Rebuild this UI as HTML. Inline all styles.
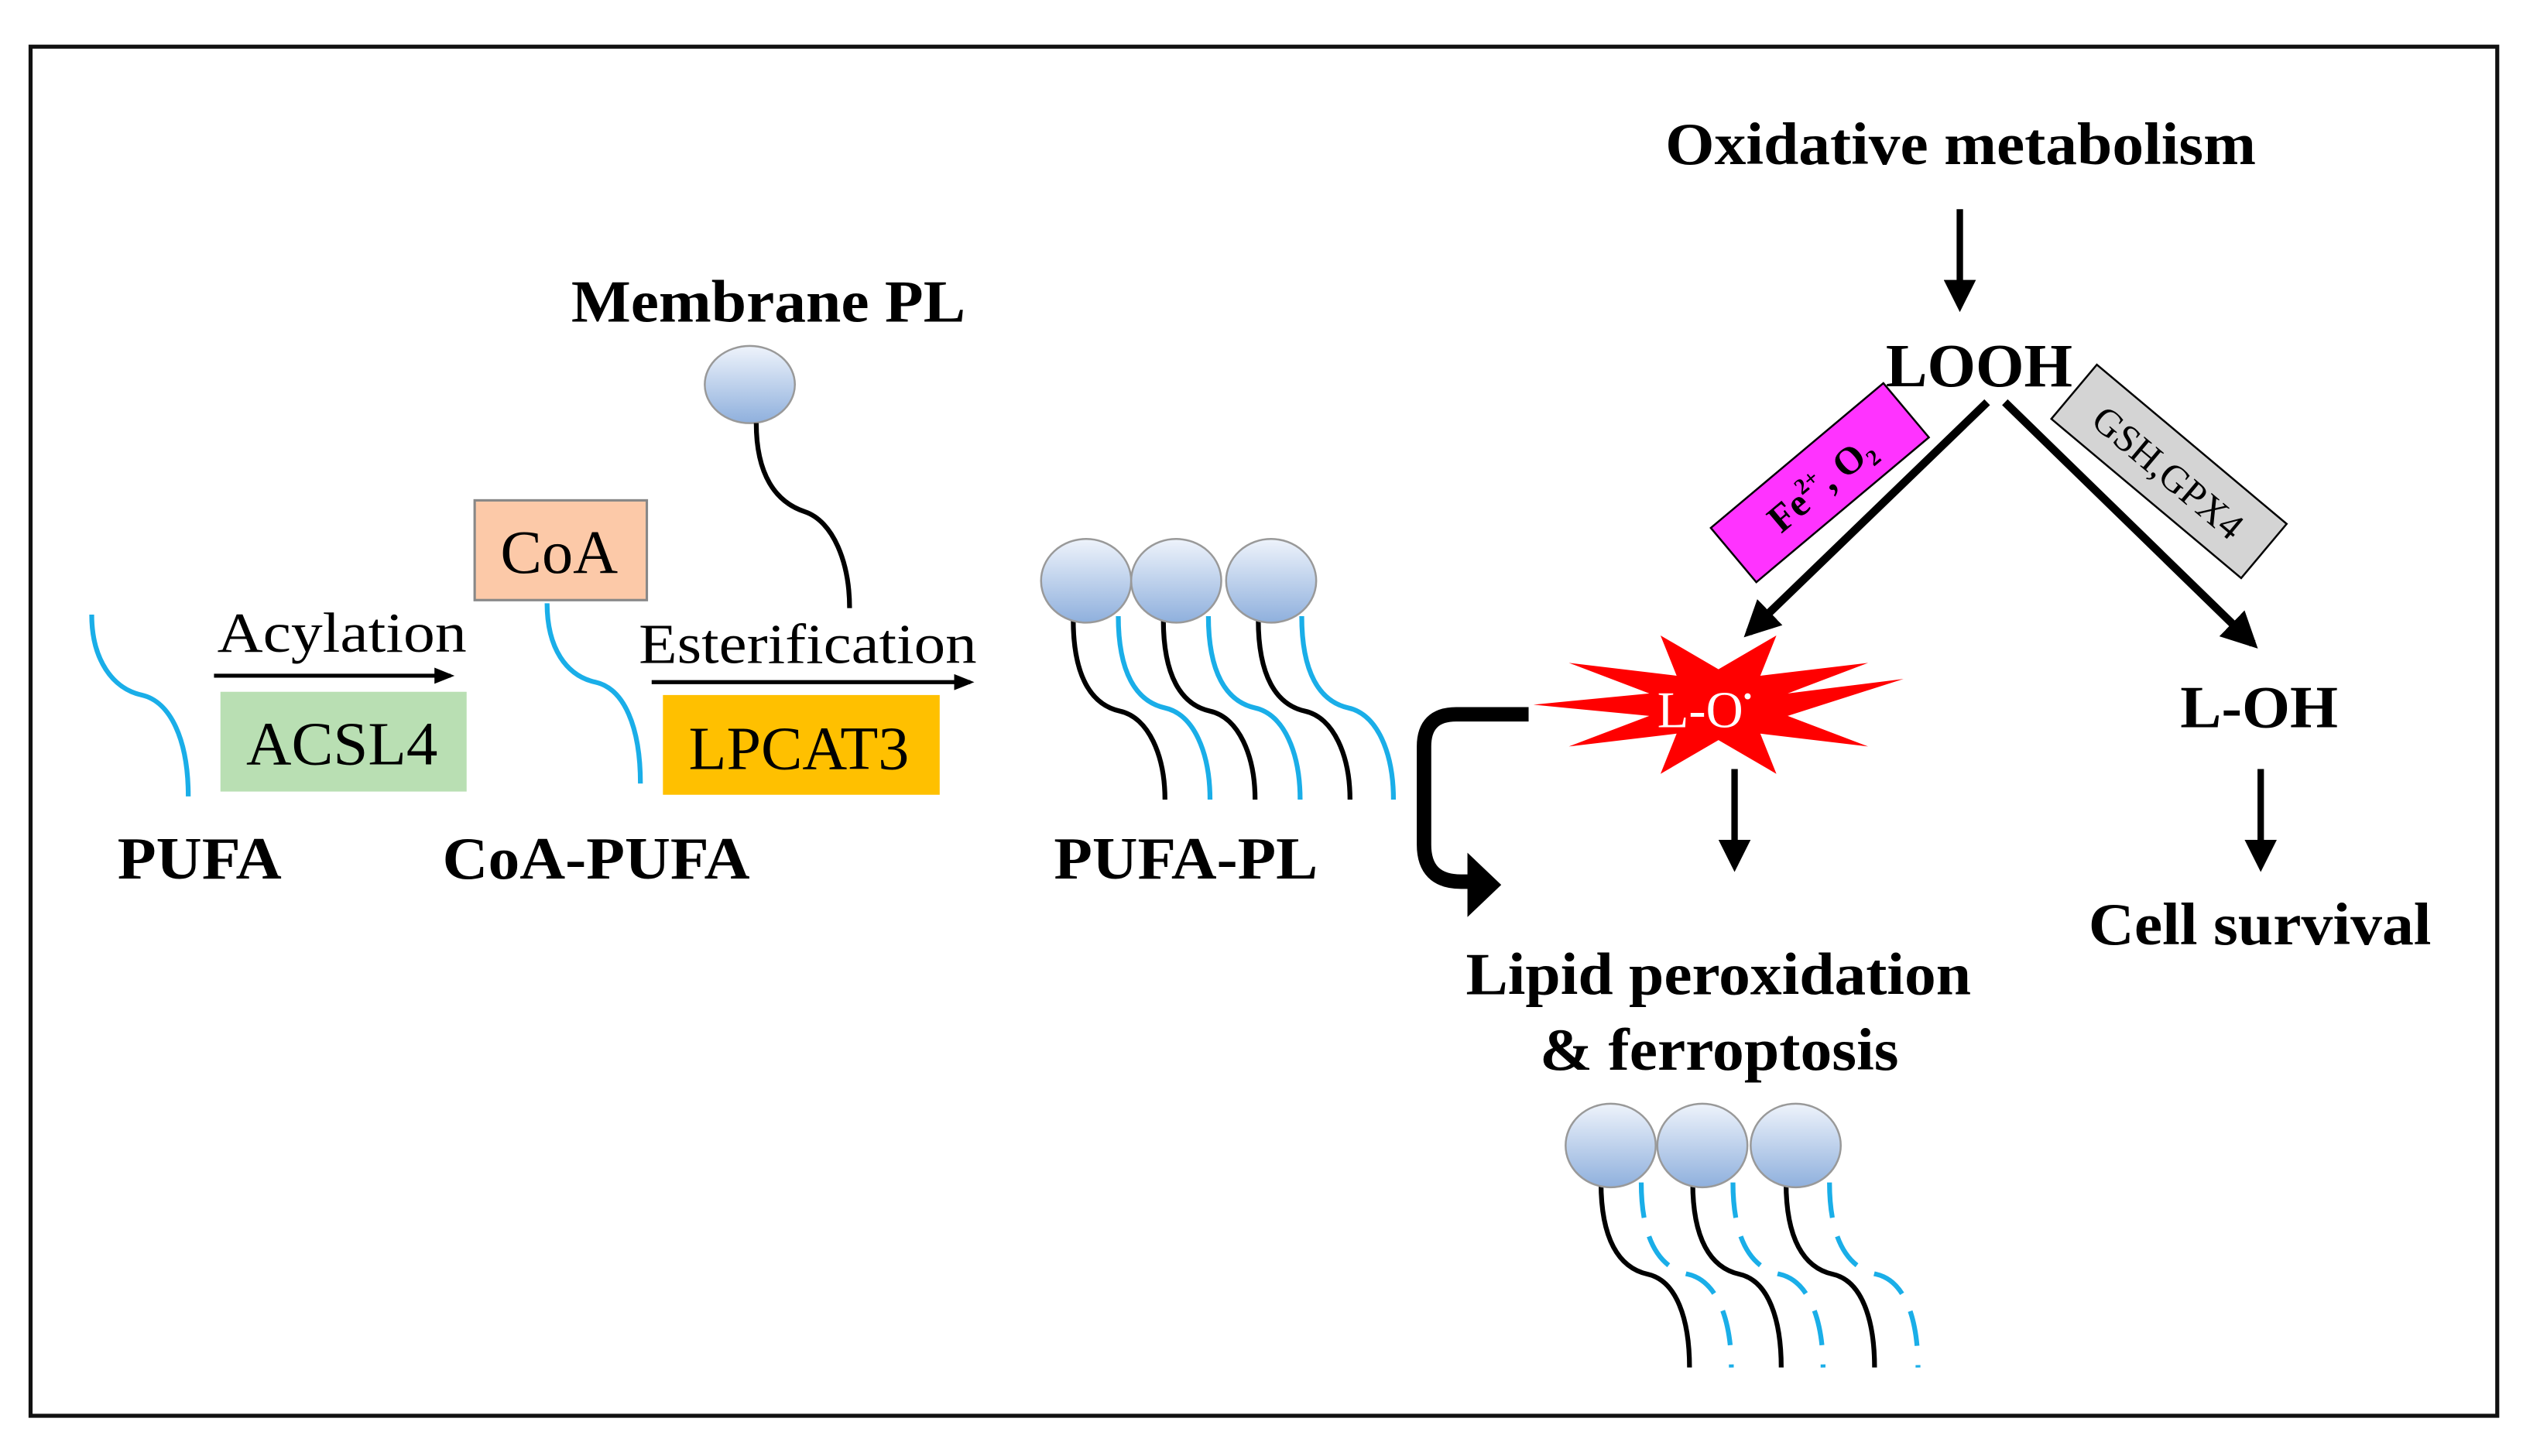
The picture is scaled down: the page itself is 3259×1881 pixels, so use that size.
<!DOCTYPE html>
<html><head><meta charset="utf-8"><style>
html,body{margin:0;padding:0;background:#fff;}
svg{display:block;}
text{font-family:"Liberation Serif",serif;}
.b{font-weight:bold;}
</style></head><body>
<svg width="3259" height="1881" viewBox="0 0 1568 905" xmlns="http://www.w3.org/2000/svg">
<defs>
<linearGradient id="g" x1="0" y1="0" x2="0" y2="1">
<stop offset="0" stop-color="#eef3fb"/><stop offset="1" stop-color="#8fb0dd"/>
</linearGradient>
<marker id="ah" viewBox="0 0 10 10" refX="8" refY="5" markerWidth="5" markerHeight="5" orient="auto"><path d="M0,0 L10,5 L0,10 z" fill="#000"/></marker>
<marker id="ad" viewBox="0 0 10 10" refX="8" refY="5" markerWidth="4.5" markerHeight="4.5" orient="auto"><path d="M0,0 L10,5 L0,10 z" fill="#000"/></marker>
<marker id="as" viewBox="0 0 10 10" refX="8" refY="5" markerWidth="6" markerHeight="5" orient="auto"><path d="M0,1 L10,5 L0,9 z" fill="#000"/></marker>
</defs>
<rect x="19" y="29" width="1533" height="851" fill="#fff" stroke="#111" stroke-width="2.5"/>

<!-- left side -->
<path d="M57,382 C57,410 70,428 88,432 C106,436 117,460 117,495" fill="none" stroke="#1aaee8" stroke-width="3"/>
<text x="135" y="405" font-size="35" textLength="155" lengthAdjust="spacingAndGlyphs">Acylation</text>
<line x1="133" y1="420" x2="280" y2="420" stroke="#000" stroke-width="2.5" marker-end="url(#as)"/>
<rect x="137" y="430" width="153" height="62" fill="#b9dfb3"/>
<text x="153" y="475" font-size="38" textLength="119" lengthAdjust="spacingAndGlyphs">ACSL4</text>
<text x="73" y="546" font-size="37" class="b" textLength="102" lengthAdjust="spacingAndGlyphs">PUFA</text>

<rect x="295" y="311" width="107" height="62" fill="#fcc9a8" stroke="#888" stroke-width="1.5"/>
<text x="311" y="356" font-size="38" textLength="73" lengthAdjust="spacingAndGlyphs">CoA</text>
<path d="M340,375 C340,403 352,420 370,424 C388,428 398,452 398,487" fill="none" stroke="#1aaee8" stroke-width="3"/>
<text x="275" y="546" font-size="37" class="b" textLength="191" lengthAdjust="spacingAndGlyphs">CoA-PUFA</text>

<text x="355" y="200" font-size="37" class="b" textLength="245" lengthAdjust="spacingAndGlyphs">Membrane PL</text>
<ellipse cx="466" cy="239" rx="28" ry="24" fill="url(#g)" stroke="#999" stroke-width="1.2"/>
<path d="M470,263 C470,295 482,312 500,318 C518,324 528,350 528,378" fill="none" stroke="#000" stroke-width="3"/>
<text x="397" y="412" font-size="35" textLength="210" lengthAdjust="spacingAndGlyphs">Esterification</text>
<line x1="405" y1="424" x2="603" y2="424" stroke="#000" stroke-width="2.5" marker-end="url(#as)"/>
<rect x="412" y="432" width="172" height="62" fill="#ffc000"/>
<text x="428" y="478" font-size="38" textLength="137" lengthAdjust="spacingAndGlyphs">LPCAT3</text>

<!-- PUFA-PL -->
<g fill="none" stroke-width="3">
<path d="M667,385 C667,420 678,438 696,442 C714,446 724,470 724,497" stroke="#000"/>
<path d="M695,383 C695,418 706,436 724,440 C742,444 752,468 752,497" stroke="#1aaee8"/>
<path d="M723,385 C723,420 734,438 752,442 C770,446 780,470 780,497" stroke="#000"/>
<path d="M751,383 C751,418 762,436 780,440 C798,444 808,468 808,497" stroke="#1aaee8"/>
<path d="M782,385 C782,420 793,438 811,442 C829,446 839,470 839,497" stroke="#000"/>
<path d="M809,383 C809,418 820,436 838,440 C856,444 866,468 866,497" stroke="#1aaee8"/>
</g>
<ellipse cx="675" cy="361" rx="28" ry="26" fill="url(#g)" stroke="#999" stroke-width="1.2"/>
<ellipse cx="731" cy="361" rx="28" ry="26" fill="url(#g)" stroke="#999" stroke-width="1.2"/>
<ellipse cx="790" cy="361" rx="28" ry="26" fill="url(#g)" stroke="#999" stroke-width="1.2"/>
<text x="655" y="546" font-size="37" class="b" textLength="164" lengthAdjust="spacingAndGlyphs">PUFA-PL</text>

<!-- right side -->
<text x="1035" y="102" font-size="37" class="b" textLength="367" lengthAdjust="spacingAndGlyphs">Oxidative metabolism</text>
<line x1="1218" y1="130" x2="1218" y2="190" stroke="#000" stroke-width="4" marker-end="url(#ah)"/>
<text x="1172" y="240" font-size="38" class="b" textLength="116" lengthAdjust="spacingAndGlyphs">LOOH</text>
<line x1="1235" y1="250" x2="1087" y2="393" stroke="#000" stroke-width="5" marker-end="url(#ad)"/>
<line x1="1246" y1="250" x2="1400" y2="400" stroke="#000" stroke-width="5" marker-end="url(#ad)"/>

<g transform="translate(1131,300) rotate(-40)">
<rect x="-70" y="-22" width="140" height="44" fill="#ff33ff" stroke="#000" stroke-width="1.2"/>
<text x="0" y="9" font-size="24" class="b" text-anchor="middle">Fe<tspan font-size="14" dy="-10">2+</tspan><tspan dy="10">, O</tspan><tspan font-size="14" dy="5">2</tspan></text>
</g>
<g transform="translate(1348,293) rotate(40)">
<rect x="-77" y="-22" width="154" height="44" fill="#d4d4d4" stroke="#000" stroke-width="1.2"/>
<text x="0" y="9" font-size="24" text-anchor="middle">GSH,GPX4</text>
</g>

<polygon points="1183,422 1111,445 1161,464 1094,456 1104,481 1068,460 1032,481 1042,456 975,464 1025,445 953,438 1025,431 975,412 1042,420 1032,395 1068,416 1104,395 1094,420 1161,412 1111,431" fill="#ff0000"/>
<text x="1030" y="452" font-size="32" fill="#fff">L-O<tspan font-size="16" dy="-14">•</tspan></text>

<text x="1355" y="452" font-size="37" class="b" textLength="98" lengthAdjust="spacingAndGlyphs">L-OH</text>
<line x1="1078" y1="478" x2="1078" y2="538" stroke="#000" stroke-width="4" marker-end="url(#ah)"/>
<line x1="1405" y1="478" x2="1405" y2="538" stroke="#000" stroke-width="4" marker-end="url(#ah)"/>
<text x="1298" y="587" font-size="37" class="b" textLength="213" lengthAdjust="spacingAndGlyphs">Cell survival</text>
<text x="911" y="618" font-size="37" class="b" textLength="314" lengthAdjust="spacingAndGlyphs">Lipid peroxidation</text>
<text x="957" y="665" font-size="37" class="b" textLength="223" lengthAdjust="spacingAndGlyphs">&amp; ferroptosis</text>

<path d="M950,444 L905,444 Q885,444 885,464 L885,525 Q885,548 908,548 L915,548" fill="none" stroke="#000" stroke-width="9"/>
<polygon points="912,530 933,550 912,570" fill="#000"/>

<!-- bottom lipids -->
<g fill="none" stroke-width="3">
<path d="M995,735 C995,770 1006,788 1024,792 C1042,796 1050,820 1050,850" stroke="#000"/>
<path d="M1020,735 C1020,770 1031,788 1049,792 C1067,796 1076,820 1076,850" stroke="#1aaee8" stroke-dasharray="22,12"/>
<path d="M1052,735 C1052,770 1063,788 1081,792 C1099,796 1107,820 1107,850" stroke="#000"/>
<path d="M1077,735 C1077,770 1088,788 1106,792 C1124,796 1133,820 1133,850" stroke="#1aaee8" stroke-dasharray="22,12"/>
<path d="M1110,735 C1110,770 1121,788 1139,792 C1157,796 1165,820 1165,850" stroke="#000"/>
<path d="M1137,735 C1137,770 1148,788 1166,792 C1184,796 1192,820 1192,850" stroke="#1aaee8" stroke-dasharray="22,12"/>
</g>
<ellipse cx="1001" cy="712" rx="28" ry="26" fill="url(#g)" stroke="#999" stroke-width="1.2"/>
<ellipse cx="1058" cy="712" rx="28" ry="26" fill="url(#g)" stroke="#999" stroke-width="1.2"/>
<ellipse cx="1116" cy="712" rx="28" ry="26" fill="url(#g)" stroke="#999" stroke-width="1.2"/>
</svg>
</body></html>
